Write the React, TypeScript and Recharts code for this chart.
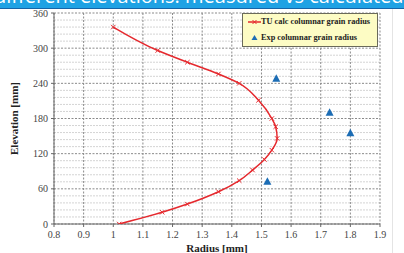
import React from 'react';
import {
  ComposedChart,
  Scatter,
  XAxis,
  YAxis,
  CartesianGrid,
} from 'recharts';

// ---- data ----
const calcRadius = [1.0, 1.15, 1.25, 1.355, 1.425, 1.49, 1.535, 1.548, 1.553, 1.535, 1.51, 1.47, 1.425, 1.355, 1.25, 1.165, 1.02];
const calcElevation = [336, 296, 276, 256, 240, 211, 180, 166, 146, 126, 110, 92, 74, 55, 34, 20, 0];
const expRadius = [1.55, 1.73, 1.8, 1.52];
const expElevation = [248, 190, 155, 72];
const xTicks = [0.8, 0.9, 1, 1.1, 1.2, 1.3, 1.4, 1.5, 1.6, 1.7, 1.8, 1.9];
const yTicks = [0, 60, 120, 180, 240, 300, 360];
const yMinorTicks = [12, 24, 36, 48, 72, 84, 96, 108, 132, 144, 156, 168, 192, 204, 216, 228, 252, 264, 276, 288, 312, 324, 336, 348];
const calcName = 'TU calc columnar grain radius';
const expName = 'Exp columnar grain radius';
const bannerText = 'different elevations: measured vs calculated';

const calcData = calcRadius.map((r, i) => ({ r, e: calcElevation[i] }));
const expData = expRadius.map((r, i) => ({ r, e: expElevation[i] }));

const RED = '#e5292e';
const BLUE = '#1c6db5';
const SERIF = '"Liberation Serif", "DejaVu Serif", serif';

const XMark = (props: any) => {
  const { cx, cy } = props;
  const s = 2.2;
  return (
    <path
      d={`M${cx - s},${cy - s}L${cx + s},${cy + s}M${cx - s},${cy + s}L${cx + s},${cy - s}`}
      stroke={RED}
      strokeWidth={1}
      fill="none"
    />
  );
};

const Tri = (props: any) => {
  const { cx, cy } = props;
  const w = 4;
  return <path d={`M${cx},${cy - 4.5}L${cx + w},${cy + 3}L${cx - w},${cy + 3}Z`} fill={BLUE} />;
};

const XTick = (props: any) => {
  const { x, y, payload } = props;
  return (
    <text x={x} y={y + 9} textAnchor="middle" style={{ fontFamily: SERIF }} fontSize={10} fill="#444">
      {String(Math.round(payload.value * 10) / 10)}
    </text>
  );
};

const YTick = (props: any) => {
  const { x, y, payload } = props;
  return (
    <text x={x - 1} y={y + 3.5} textAnchor="end" style={{ fontFamily: SERIF }} fontSize={10} fill="#444">
      {String(payload.value)}
    </text>
  );
};

const LegendBox = () => (
  <div
    style={{
      position: 'absolute',
      left: 242,
      top: 13,
      width: 136,
      height: 34,
      background: '#fdfcc4',
      border: '1px solid #6a6a5a',
      fontFamily: SERIF,
      fontWeight: 'bold',
      fontSize: 8.3,
      lineHeight: '11px',
      color: '#222',
      boxSizing: 'border-box',
    }}
  >
    <svg width={16} height={32} style={{ position: 'absolute', left: 4, top: 0 }}>
      <line x1={1} y1={8} x2={14} y2={8} stroke={RED} strokeWidth={1.5} />
      <path d="M5.5,6L9.5,10M5.5,10L9.5,6" stroke={RED} strokeWidth={1} />
      <path d="M7.5,21L10.5,26L4.5,26Z" fill={BLUE} />
    </svg>
    <div style={{ position: 'absolute', left: 18, top: 2, whiteSpace: 'nowrap' }}>{calcName}</div>
    <div style={{ position: 'absolute', left: 18, top: 18, whiteSpace: 'nowrap' }}>{expName}</div>
  </div>
);

export default function App() {
  return (
    <div style={{ position: 'absolute', left: 0, top: 0, width: 404, height: 253, background: '#fff', overflow: 'hidden' }}>
      <ComposedChart
        width={404}
        height={253}
        margin={{ top: 13, right: 24, bottom: 1, left: 10 }}
      >
        <CartesianGrid
          horizontalValues={yMinorTicks}
          vertical={false}
          stroke="#d4d4d4"
          strokeDasharray="2 1"
        />
        <CartesianGrid stroke="#8a8a8a" strokeDasharray="2 1.5" />
        <XAxis
          type="number"
          dataKey="r"
          domain={[0.8, 1.9]}
          ticks={xTicks}
          interval={0}
          allowDataOverflow
          tick={<XTick />}
          tickSize={3}
          stroke="#666"
          height={28}
          label={{
            value: 'Radius [mm]',
            position: 'insideBottom',
            offset: 0,
            style: { fontFamily: SERIF, fontWeight: 'bold', fontSize: 11, fill: '#222' },
          }}
        />
        <YAxis
          type="number"
          dataKey="e"
          domain={[0, 360]}
          ticks={yTicks}
          interval={0}
          allowDataOverflow
          tick={<YTick />}
          tickSize={3}
          stroke="#666"
          width={44}
          label={{
            value: 'Elevation [mm]',
            angle: -90,
            position: 'insideLeft',
            offset: 4,
            style: { textAnchor: 'middle', fontFamily: SERIF, fontWeight: 'bold', fontSize: 11, fill: '#222' },
          }}
        />
        <Scatter
          name={calcName}
          data={calcData}
          line={{ stroke: RED, strokeWidth: 1.5 }}
          lineJointType="monotoneY"
          shape={<XMark />}
          fill={RED}
          isAnimationActive={false}
        />
        <Scatter
          name={expName}
          data={expData}
          shape={<Tri />}
          fill={BLUE}
          isAnimationActive={false}
        />
      </ComposedChart>
      <LegendBox />
      <div
        style={{
          position: 'absolute',
          left: 0,
          top: 0,
          width: 404,
          height: 8,
          background: '#1ea2e4',
          borderBottom: '1px solid #1565a8',
          overflow: 'hidden',
        }}
      >
        <div
          style={{
            position: 'absolute',
            left: -6,
            top: -16,
            whiteSpace: 'nowrap',
            color: '#fff',
            fontFamily: '"Open Sans", "Liberation Sans", sans-serif',
            fontSize: 20,
            lineHeight: '24px',
          }}
        >
          {bannerText}
        </div>
      </div>
      <div style={{ position: 'absolute', left: 392, top: 9, width: 1, height: 244, background: '#e4e4e4' }} />
    </div>
  );
}
